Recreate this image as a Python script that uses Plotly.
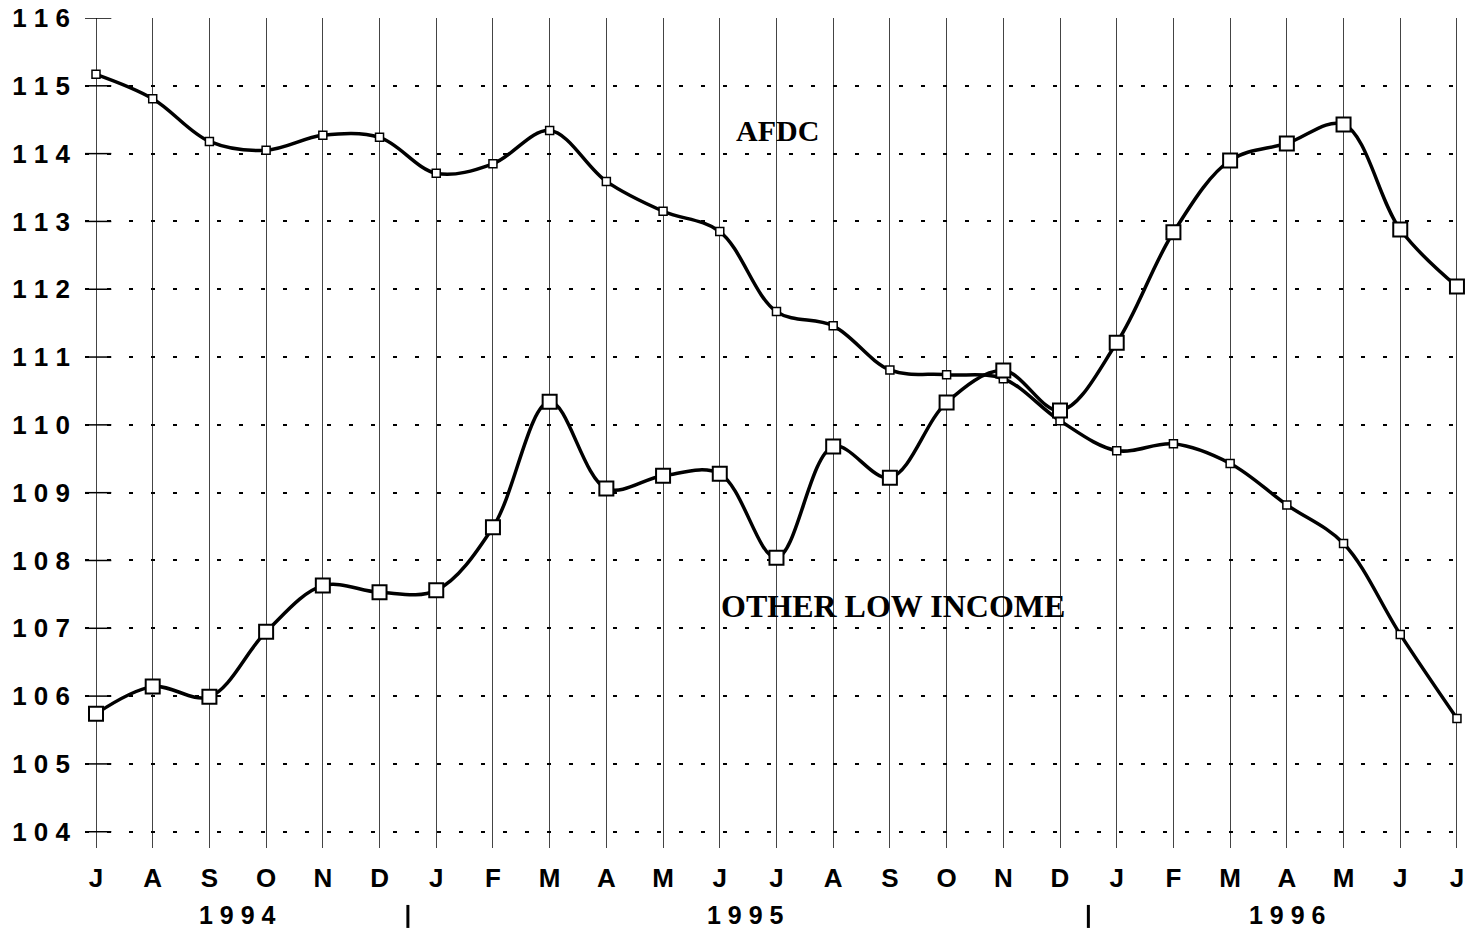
import plotly.graph_objects as go

months = ["J", "A", "S", "O", "N", "D", "J", "F", "M", "A", "M", "J", "J",
          "A", "S", "O", "N", "D", "J", "F", "M", "A", "M", "J", "J"]
years = ["1994", "1995", "1996"]
year_centers = [2.5, 11.45, 21.0]
year_breaks = [5.5, 17.5]

# series with small square markers
small_series = [115.17, 114.81, 114.18, 114.05, 114.27, 114.24, 113.71, 113.85,
                114.34, 113.59, 113.15, 112.85, 111.67, 111.46, 110.81, 110.74,
                110.68, 110.06, 109.62, 109.72, 109.43, 108.82, 108.25, 106.91,
                105.67]
# series with large square markers
large_series = [105.74, 106.14, 105.99, 106.95, 107.63, 107.53, 107.56, 108.49,
                110.34, 109.06, 109.25, 109.28, 108.04, 109.68, 109.22, 110.33,
                110.80, 110.21, 111.21, 112.84, 113.90, 114.15, 114.43, 112.88,
                112.04]

y_ticks = list(range(104, 117))
label_afdc = "AFDC"
label_other = "OTHER LOW INCOME"

x_idx = list(range(len(months)))
x_range = [-0.194, 24.23]
y_range = [103.76, 116]

fig = go.Figure()
fig.add_trace(go.Scatter(
    x=x_idx, y=small_series, mode="lines+markers",
    line=dict(color="black", width=3.5, shape="spline"),
    marker=dict(symbol="square", size=8, color="white",
                line=dict(color="black", width=1.5)),
    showlegend=False, cliponaxis=False))
fig.add_trace(go.Scatter(
    x=x_idx, y=large_series, mode="lines+markers",
    line=dict(color="black", width=3.5, shape="spline"),
    marker=dict(symbol="square", size=14, color="white",
                line=dict(color="black", width=2)),
    showlegend=False, cliponaxis=False))

shapes = []
for v in y_ticks:
    shapes.append(dict(type="line", xref="x", yref="y", x0=x_range[0], x1=0.27,
                       y0=v, y1=v, line=dict(color="black", width=1.5)))
for b in year_breaks:
    shapes.append(dict(type="line", xref="x", yref="paper", x0=b, x1=b,
                       y0=-0.0686, y1=-0.0963, line=dict(color="black", width=3)))

annotations = [
    dict(x=12.01, y=114.34, xref="x", yref="y", text="<b>" + label_afdc + "</b>",
         showarrow=False, font=dict(family="Liberation Serif", size=30, color="black")),
    dict(x=14.06, y=107.33, xref="x", yref="y", text="<b>" + label_other + "</b>",
         showarrow=False, font=dict(family="Liberation Serif", size=32, color="black")),
]
for yr, c in zip(years, year_centers):
    annotations.append(dict(x=c, y=-0.0807, xref="x", yref="paper",
                            text="<b>" + " ".join(yr) + "</b>", showarrow=False,
                            yanchor="middle",
                            font=dict(family="Liberation Sans", size=25, color="black")))

fig.update_layout(
    width=1474, height=930,
    margin=dict(l=85, r=4, t=18, b=82, autoexpand=False),
    paper_bgcolor="white", plot_bgcolor="white",
    shapes=shapes, annotations=annotations,
    xaxis=dict(range=x_range, tickvals=x_idx, ticktext=months,
               showgrid=True, gridcolor="#444", gridwidth=1,
               zeroline=False, showline=False, ticks="", automargin=False,
               ticklabeloverflow="allow",
               tickfont=dict(family="Liberation Sans", size=26, color="black", weight=700),
               ticklabelstandoff=12),
    yaxis=dict(range=y_range, tickvals=y_ticks,
               ticktext=[" ".join(str(v)) for v in y_ticks],
               showgrid=True, gridcolor="black", gridwidth=1.5,
               griddash="4px,18px",
               zeroline=False, showline=False, ticks="", automargin=False,
               ticklabeloverflow="allow",
               tickfont=dict(family="Liberation Sans", size=26, color="black", weight=700),
               ticklabelstandoff=14),
)

fig.write_html("out.html", config={"displayModeBar": False},
               post_script="document.body.style.margin='0px';document.body.style.overflow='hidden';")
